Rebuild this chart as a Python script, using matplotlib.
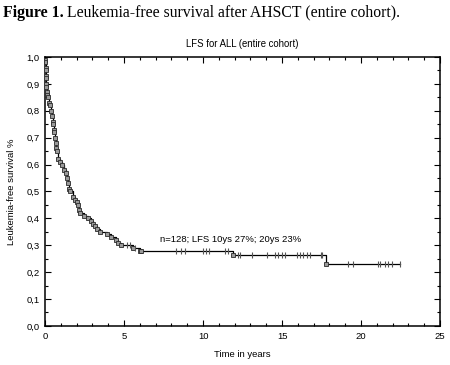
import numpy as np
import matplotlib
matplotlib.use('Agg')
import matplotlib.pyplot as plt
from matplotlib.ticker import MultipleLocator, FuncFormatter

# Kaplan-Meier step points (time in years, LFS after the event)
event_t = [0.0, 0.02, 0.03, 0.04, 0.05, 0.06, 0.07, 0.08, 0.09, 0.10, 0.14, 0.20,
           0.25, 0.30, 0.36, 0.42, 0.48, 0.53, 0.57, 0.60, 0.63, 0.68, 0.72, 0.78,
           0.84, 0.95, 1.10, 1.20, 1.33, 1.37, 1.45, 1.52, 1.58, 1.75, 1.90, 2.00,
           2.10, 2.15, 2.22, 2.45, 2.74, 2.90, 3.06, 3.15, 3.27, 3.50, 3.90, 4.20,
           4.50, 4.65, 4.80, 5.55, 6.00, 6.10, 11.9, 17.77]
event_s = [1.0, 0.99, 0.98, 0.96, 0.95, 0.93, 0.92, 0.90, 0.89, 0.87, 0.86, 0.85,
           0.83, 0.82, 0.80, 0.78, 0.76, 0.75, 0.73, 0.72, 0.70, 0.68, 0.66, 0.65,
           0.62, 0.61, 0.60, 0.58, 0.57, 0.55, 0.53, 0.51, 0.50, 0.48, 0.47, 0.46,
           0.45, 0.43, 0.42, 0.41, 0.40, 0.39, 0.38, 0.37, 0.36, 0.35, 0.34, 0.33,
           0.32, 0.31, 0.30, 0.29, 0.28, 0.277, 0.262, 0.23]
# censored observations
cens_t = [5.2, 5.4, 5.7, 8.3, 8.6, 8.85, 10.0, 10.2, 10.4, 11.4, 11.6, 12.23, 12.34,
          13.1, 14.03, 14.56, 14.77, 14.98, 15.19, 15.93, 16.14, 16.35, 16.56, 16.77,
          17.45, 17.55, 19.2, 19.5, 21.1, 21.2, 21.5, 21.7, 21.95, 22.47]

note = 'n=128; LFS 10ys 27%; 20ys 23%'

et = np.array(event_t)
es = np.array(event_s)
ct = np.array(cens_t)
cs = es[np.searchsorted(et, ct, side='right') - 1]

plt.rcParams['font.family'] = 'Liberation Sans'
fig = plt.figure(figsize=(4.5, 3.65), dpi=100)
ax = fig.add_axes([0.1, 0.107, 0.878, 0.737])

st = np.append(et, ct[-1])
ss = np.append(es, es[-1])
ax.step(st, ss, where='post', color='black', lw=0.9, zorder=2)
ax.plot(et[1:], es[1:], ls='none', marker='s', ms=3.2, mfc='#9a9a9a', mec='#2a2a2a',
        mew=0.6, zorder=3)
ax.plot(ct, cs, ls='none', marker='|', ms=4.5, mew=0.8, color='#555555', zorder=3)

ax.text(7.3, 0.32, note, fontsize=6.8, va='center', ha='left')

ax.set_xlim(0, 25)
ax.set_ylim(0, 1.0)
ax.xaxis.set_major_locator(MultipleLocator(5))
ax.xaxis.set_minor_locator(MultipleLocator(1))
ax.yaxis.set_major_locator(MultipleLocator(0.1))
ax.yaxis.set_minor_locator(MultipleLocator(0.05))
ax.yaxis.set_major_formatter(FuncFormatter(lambda v, p: ('%.1f' % v).replace('.', ',')))
ax.tick_params(which='both', direction='in', top=True, right=True, labelsize=6.8,
               width=0.8, colors='black')
ax.tick_params(which='major', length=4, pad=4)
ax.tick_params(which='minor', length=2.5)
for s in ax.spines.values():
    s.set_linewidth(1.1)

ax.set_xlabel('Time in years', fontsize=6.8, labelpad=7)
ax.set_ylabel('Leukemia-free survival %', fontsize=6.8, labelpad=7)
ax.set_title('LFS for ALL (entire cohort)', fontsize=6.9, pad=7)

fig.text(3 / 450, 0.965, 'Figure 1.', fontsize=11.4, fontweight='bold',
         family='Liberation Serif', va='center', ha='left')
fig.text(67 / 450, 0.965, 'Leukemia-free survival after AHSCT (entire cohort).',
         fontsize=11.3, family='Liberation Serif', va='center', ha='left')

fig.savefig('out.png', dpi=100)
